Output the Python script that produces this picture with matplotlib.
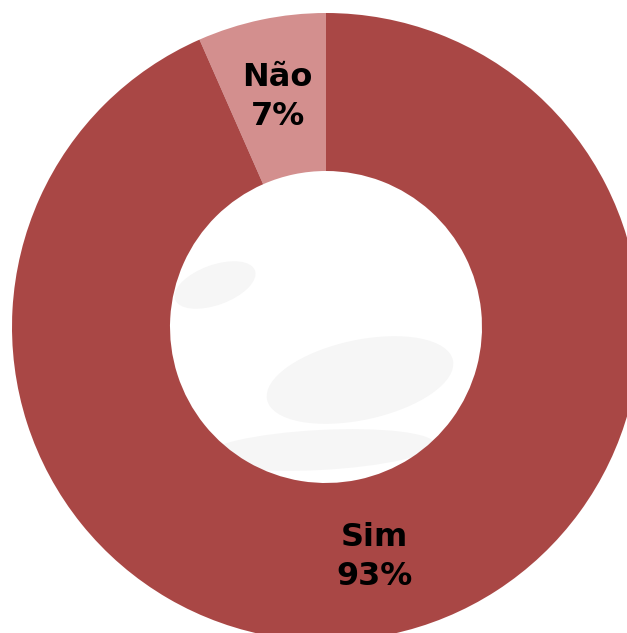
import numpy as np
import matplotlib.pyplot as plt
from matplotlib.patches import Ellipse

# data
labels = ["Não", "Sim"]
values = [6.6, 93.4]
colors = ["#D38F8E", "#A94745"]

W, H = 627, 633
cx, cy, R = 326, 327, 314   # pixel centre / outer radius
hole = 156 / 314

fig = plt.figure(figsize=(W / 100, H / 100), dpi=100)
fig.patch.set_facecolor("white")
ax = fig.add_axes([0, 0, 1, 1])

# faint background watermark (very light grey blobs)
def px(x, y):
    return ((x - cx) / R, (cy - y) / R)

for (x, y, w, h, a) in [(215, 285, 85, 40, 20), (360, 380, 190, 80, 12),
                        (320, 450, 230, 40, 3)]:
    ax.add_patch(Ellipse(px(x, y), w / R, h / R, angle=a,
                         fc="#F6F6F6", ec="none", zorder=0))

wedges, _ = ax.pie(values, colors=colors, startangle=90, counterclock=True,
                   radius=1, wedgeprops=dict(width=1 - hole, edgecolor="none"))

# labels at middle of ring
rmid = (1 + hole) / 2
total = sum(values)
for w, lab, v in zip(wedges, labels, values):
    ang = np.deg2rad((w.theta1 + w.theta2) / 2)
    ax.text(rmid * np.cos(ang), rmid * np.sin(ang), f"{lab}\n{round(100 * v / total)}%",
            ha="center", va="center", fontsize=23, fontweight="bold",
            color="black", linespacing=1.3)

ax.set_xlim(-cx / R, (W - cx) / R)
ax.set_ylim(-(H - cy) / R, cy / R)
ax.set_aspect("auto")
ax.axis("off")

plt.savefig("out.png", dpi=100, facecolor="white")
plt.close()
